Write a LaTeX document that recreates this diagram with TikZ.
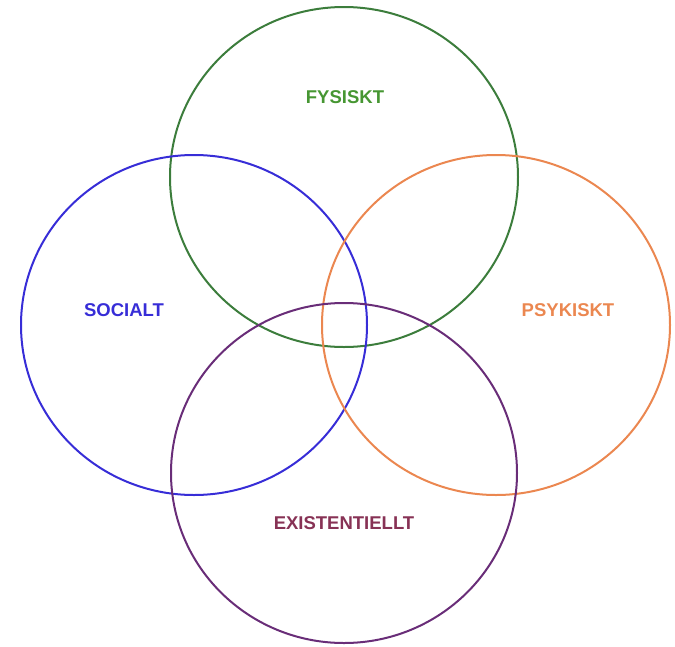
\documentclass[tikz,border=0pt]{standalone}
\usepackage{fontspec}
\setmainfont{Liberation Sans}
\definecolor{cgreen}{RGB}{60,125,60}
\definecolor{tgreen}{RGB}{70,150,50}
\definecolor{cblue}{RGB}{55,45,215}
\definecolor{corange}{RGB}{235,135,80}
\definecolor{cpurple}{RGB}{105,45,120}
\definecolor{tpurple}{RGB}{135,50,85}
\begin{document}
\begin{tikzpicture}[x=1pt,y=-1pt,
  ring/.style={line width=2pt},
  lbl/.style={font=\fontsize{18.5}{22}\selectfont\bfseries, inner sep=0pt}]
\useasboundingbox (0,0) rectangle (675,646);
\draw[ring,cgreen] (344,177) ellipse [x radius=174, y radius=170];
\draw[ring,cblue] (194,325) ellipse [x radius=173, y radius=170];
\draw[ring,corange] (496,325) ellipse [x radius=174, y radius=170];
\draw[ring,cpurple] (344,473) ellipse [x radius=173, y radius=170];
\node[lbl,text=tgreen] (fys) at (345,97) {FYSISKT};
\node[lbl,text=cblue] (soc) at (124,310) {SOCIALT};
\node[lbl,text=corange] (psy) at (568,310) {PSYKISKT};
\node[lbl,text=tpurple] (exi) at (344,523) {EXISTENTIELLT};
\end{tikzpicture}
\end{document}
